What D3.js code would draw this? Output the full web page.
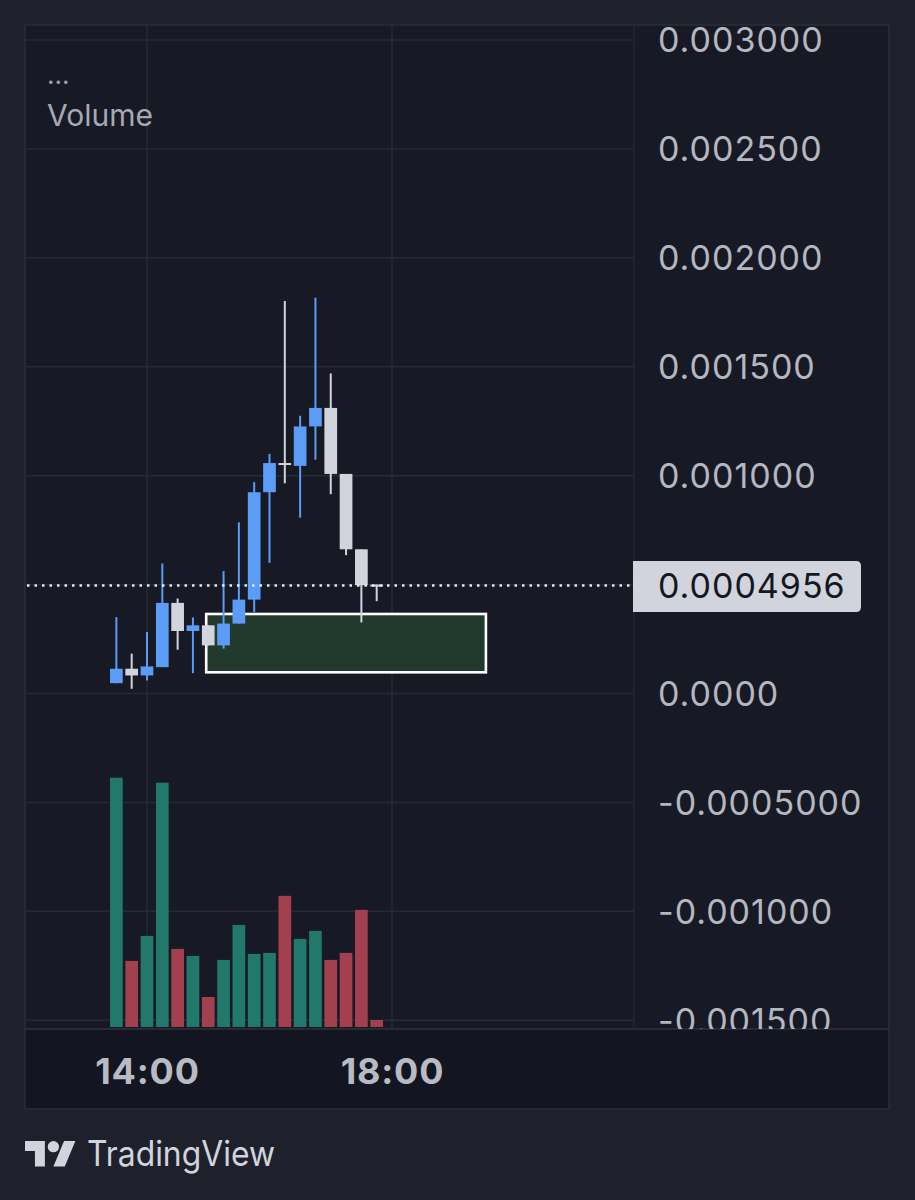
<!DOCTYPE html>
<html>
<head>
<meta charset="utf-8">
<script src="https://cdn.jsdelivr.net/npm/d3@7"></script>
<style>
html,body{margin:0;padding:0;background:#1e212b;}
svg{display:block;}
</style>
</head>
<body>
<svg id="chart" width="915" height="1200"></svg>
<script>
// ---- data (15-minute candles) ----
const times = ["13:30","13:45","14:00","14:15","14:30","14:45","15:00","15:15","15:30","15:45","16:00","16:15","16:30","16:45","17:00","17:15","17:30","17:45"];
const opens  = [0.0000474,0.0001137,0.0000829,0.000121,0.000416,0.000287,0.000313,0.000221,0.000321,0.000431,0.000924,0.001058,0.001045,0.001226,0.001311,0.001008,0.000662,0.000500];
const highs  = [0.000351,0.000183,0.000282,0.000597,0.000436,0.000349,0.000313,0.000562,0.000786,0.000970,0.001100,0.001802,0.001275,0.001817,0.001469,0.001008,0.000662,0.000500];
const lows   = [0.0000474,0.0000216,0.0000599,0.000121,0.000201,0.0000935,0.000221,0.000206,0.000321,0.000374,0.000600,0.000965,0.000807,0.001073,0.000915,0.000635,0.000326,0.000424];
const closes = [0.0001137,0.0000829,0.0001243,0.000416,0.000287,0.000313,0.000221,0.000321,0.000431,0.000924,0.001058,0.001053,0.001226,0.001311,0.001008,0.000662,0.000497,0.0004956];
const volumes = [249,66,91,244,78,71,30,67,102,73,74,131,88,96,67,74,117,7];
const lastPrice = 0.0004956;
const lastPriceLabel = "0.0004956";
const priceTicks = [0.003,0.0025,0.002,0.0015,0.001,0.0005,0,-0.0005,-0.001,-0.0015];
const priceTickLabels = ["0.003000","0.002500","0.002000","0.001500","0.001000","0.0005000","0.0000","-0.0005000","-0.001000","-0.001500"];
const timeTicks = ["14:00","18:00"];
const zoneTimes = ["14:58","19:32"];
const zonePrices = [0.000365,0.0000973];
const legendLabel = "Volume";

// ---- helpers ----
const parse = s => { const [h,m] = s.split(":").map(Number); return new Date(2024,0,1,h,m); };
const candles = times.map((t,i)=>({t:parse(t),o:opens[i],h:highs[i],l:lows[i],c:closes[i],v:volumes[i]}));

// ---- layout ----
const paneL = 25, paneR = 634, paneT = 25, paneB = 1029, outerR = 889, axisB = 1109;
const svg = d3.select("#chart");

const x = d3.scaleTime().domain([parse("14:00"), parse("18:00")]).range([147, 392]);
const y = d3.scaleLinear().domain([0, 0.003]).range([693.5, 40]);
const yv = d3.scaleLinear().domain([0, d3.max(volumes)]).range([1027, 777.7]);

const bodyW = 12.7;
const upColor = "#5b9cf6", downColor = "#d1d4dc";
const volUp = "#22786a", volDown = "#a3404f";
const gridColor = "#262a35";

// backgrounds
svg.append("rect").attr("x",0).attr("y",0).attr("width",915).attr("height",1200).attr("fill","#1e212b");
svg.append("rect").attr("x",paneL).attr("y",paneT).attr("width",outerR-paneL).attr("height",paneB-paneT).attr("fill","#171a24");
svg.append("rect").attr("x",paneL).attr("y",paneB).attr("width",outerR-paneL).attr("height",axisB-paneB).attr("fill","#131620");

const defs = svg.append("defs");
defs.append("clipPath").attr("id","pane").append("rect").attr("x",paneL).attr("y",paneT).attr("width",paneR-paneL).attr("height",paneB-paneT);
defs.append("clipPath").attr("id","paxis").append("rect").attr("x",paneR).attr("y",paneT).attr("width",outerR-paneR).attr("height",paneB-paneT);

const pane = svg.append("g").attr("clip-path","url(#pane)");

// horizontal grid
pane.append("g").selectAll("line").data(priceTicks).join("line")
  .attr("x1",paneL).attr("x2",paneR)
  .attr("y1",d=>y(d)).attr("y2",d=>y(d))
  .attr("stroke",gridColor).attr("stroke-width",1.5);
// vertical grid
pane.append("g").selectAll("line").data(timeTicks).join("line")
  .attr("x1",d=>x(parse(d))).attr("x2",d=>x(parse(d)))
  .attr("y1",paneT).attr("y2",paneB)
  .attr("stroke",gridColor).attr("stroke-width",1.5);

// volume
pane.append("g").selectAll("rect").data(candles).join("rect")
  .attr("x",d=>x(d.t)-bodyW/2).attr("width",bodyW)
  .attr("y",d=>yv(d.v)).attr("height",d=>yv(0)-yv(d.v))
  .attr("fill",d=>d.c>=d.o?volUp:volDown);

// zone rectangle
pane.append("rect")
  .attr("x",x(parse(zoneTimes[0]))).attr("width",x(parse(zoneTimes[1]))-x(parse(zoneTimes[0])))
  .attr("y",y(zonePrices[0])).attr("height",y(zonePrices[1])-y(zonePrices[0]))
  .attr("fill","#223a2e").attr("stroke","#ffffff").attr("stroke-width",2.6);

// candles
const cg = pane.append("g");
cg.selectAll("line").data(candles).join("line")
  .attr("x1",d=>x(d.t)).attr("x2",d=>x(d.t))
  .attr("y1",d=>y(d.h)).attr("y2",d=>y(d.l))
  .attr("stroke",d=>d.c>=d.o?upColor:downColor).attr("stroke-width",2);
cg.selectAll("rect").data(candles).join("rect")
  .attr("x",d=>x(d.t)-bodyW/2).attr("width",bodyW)
  .attr("y",d=>y(Math.max(d.o,d.c)))
  .attr("height",d=>Math.max(2,Math.abs(y(d.o)-y(d.c))))
  .attr("fill",d=>d.c>=d.o?upColor:downColor);

// last price dotted line
pane.append("line").attr("x1",paneL+2).attr("x2",paneR)
  .attr("y1",y(lastPrice)).attr("y2",y(lastPrice))
  .attr("stroke","#e6e8ee").attr("stroke-width",2.5).attr("stroke-dasharray","2.5 5");

// borders
svg.append("rect").attr("x",paneL).attr("y",paneT).attr("width",outerR-paneL).attr("height",axisB-paneT)
  .attr("fill","none").attr("stroke","#2a2e39").attr("stroke-width",1.5);
svg.append("line").attr("x1",paneL).attr("x2",outerR).attr("y1",paneB).attr("y2",paneB).attr("stroke","#2e323d").attr("stroke-width",1.5);
svg.append("line").attr("x1",paneR).attr("x2",paneR).attr("y1",paneT).attr("y2",paneB).attr("stroke","#22262f").attr("stroke-width",1.5);

// price axis
const yAxis = d3.axisRight(y).tickValues(priceTicks).tickSize(0).tickPadding(0)
  .tickFormat((d,i)=>priceTickLabels[i]);
const ya = svg.append("g").attr("clip-path","url(#paxis)").append("g").attr("transform",`translate(658,0)`).call(yAxis);
ya.select(".domain").remove();
ya.selectAll("text").attr("fill","#b4b7c0").attr("font-family","Inter, 'Noto Sans', sans-serif")
  .attr("font-size",34).attr("letter-spacing",1).attr("dy","0.35em");

// last price label
const bx0 = 633, bx1 = 861, by0 = 561, by1 = 612, r = 5;
svg.append("path")
  .attr("d",`M${bx0},${by0} H${bx1-r} Q${bx1},${by0} ${bx1},${by0+r} V${by1-r} Q${bx1},${by1} ${bx1-r},${by1} H${bx0} Z`)
  .attr("fill","#d1d4dc");
svg.append("text").attr("x",658).attr("y",(by0+by1)/2).attr("dy","0.35em")
  .attr("font-family","Inter, 'Noto Sans', sans-serif").attr("font-size",34).attr("letter-spacing",1).attr("fill","#131722")
  .text(lastPriceLabel);

// time axis
const xAxis = d3.axisBottom(x).tickValues(timeTicks.map(parse)).tickSize(0).tickPadding(0)
  .tickFormat(d3.timeFormat("%H:%M"));
const xa = svg.append("g").attr("transform",`translate(0,1071)`).call(xAxis);
xa.select(".domain").remove();
xa.selectAll("text").attr("fill","#b8bbc4").attr("font-family","Inter, 'Noto Sans', sans-serif")
  .attr("font-size",36).attr("font-weight",700).attr("letter-spacing",0.8).attr("dy","0.35em");

// legend
svg.append("text").attr("x",47).attr("y",84).attr("font-family","Inter, sans-serif").attr("font-size",26).attr("fill","#9ea1aa").text("...");
svg.append("text").attr("x",47).attr("y",126).attr("font-family","Inter, sans-serif").attr("font-size",30).attr("fill","#a6a9b2").text(legendLabel);

// TradingView logo
const logo = svg.append("g").attr("transform","translate(25,1135.3) scale(1.42)").attr("fill","#d1d4dc");
logo.append("path").attr("d","M14 22H7V11H0V4h14v18zM28 22h-8l7.5-18h8L28 22z");
logo.append("circle").attr("cx",20).attr("cy",8).attr("r",4);
svg.append("text").attr("x",87).attr("y",1166).attr("font-family","Inter, sans-serif").attr("font-size",35)
  .attr("fill","#d1d4dc").attr("textLength",188).attr("lengthAdjust","spacingAndGlyphs").text("TradingView");
</script>
</body>
</html>
